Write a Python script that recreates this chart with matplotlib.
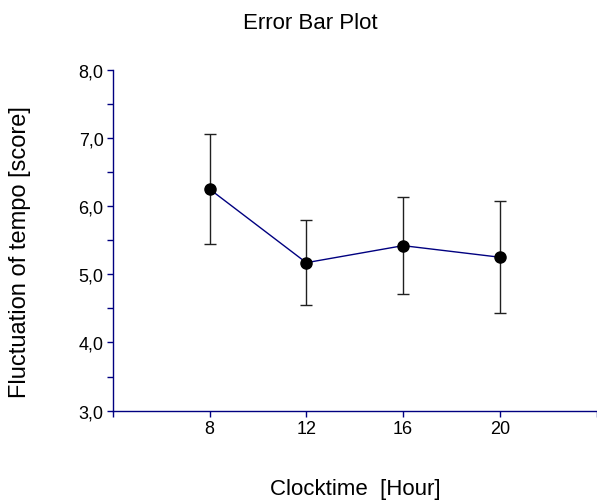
import matplotlib
matplotlib.use("Agg")
import matplotlib.pyplot as plt
from matplotlib.ticker import FixedLocator, FixedFormatter, MultipleLocator

plt.rcParams["font.family"] = ["Liberation Sans", "DejaVu Sans"]

# data
hours = [8, 12, 16, 20]
means = [6.25, 5.17, 5.42, 5.25]
errs = [0.80, 0.62, 0.71, 0.82]

x_ticks = [4, 8, 12, 16, 20, 24]
x_labels = ["", "8", "12", "16", "20", ""]
y_ticks = [3, 4, 5, 6, 7, 8]
y_labels = ["3,0", "4,0", "5,0", "6,0", "7,0", "8,0"]

navy = "#000080"

fig = plt.figure(figsize=(5.97, 5.02), dpi=100)
ax = fig.add_axes([0.1888, 0.1799, 0.8107, 0.6793])

ax.errorbar(hours, means, yerr=errs, fmt="none", ecolor="#202020",
            elinewidth=1.0, capsize=4, capthick=1.0, zorder=2)
ax.plot(hours, means, color=navy, lw=1.0, zorder=3)
ax.plot(hours, means, "o", color="black", ms=8, zorder=4)

ax.set_xlim(4, 24)
ax.set_ylim(3, 8)
ax.xaxis.set_major_locator(FixedLocator(x_ticks))
ax.xaxis.set_major_formatter(FixedFormatter(x_labels))
ax.yaxis.set_major_locator(FixedLocator(y_ticks))
ax.yaxis.set_major_formatter(FixedFormatter(y_labels))
ax.yaxis.set_minor_locator(MultipleLocator(0.5))

for s in ["top", "right"]:
    ax.spines[s].set_visible(False)
for s in ["left", "bottom"]:
    ax.spines[s].set_color(navy)
    ax.spines[s].set_linewidth(1.0)

ax.tick_params(which="both", direction="out", length=4.5, width=1.0,
               color=navy, labelsize=13, labelcolor="black", pad=2)
ax.tick_params(axis="y", which="minor", length=4.5)

fig.text(0.519, 0.954, "Error Bar Plot", ha="center", va="center", fontsize=16)
fig.text(0.595, 0.025, "Clocktime  [Hour]", ha="center", va="center", fontsize=16)
fig.text(0.034, 0.498, "Fluctuation of tempo [score]", ha="center", va="center",
         rotation=90, fontsize=17)

fig.savefig("out.png", dpi=100)
